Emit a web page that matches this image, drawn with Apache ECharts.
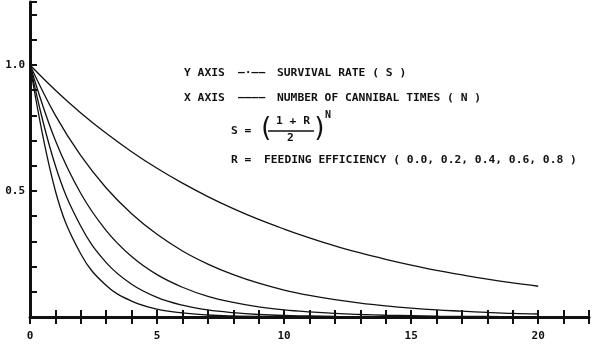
<!DOCTYPE html>
<html>
<head>
<meta charset="utf-8">
<script src="https://cdn.jsdelivr.net/npm/echarts@6/dist/echarts.min.js"></script>
<style>
    html, body { margin: 0; padding: 0; background: #fff; }
    #survival { width: 600px; height: 353px; }
</style>
</head>
<body>
<div id="survival"></div>
<script>
    // number of cannibal times N
    const cannibalTimes = [0, 1, 2, 3, 4, 5, 6, 7, 8, 9, 10, 11, 12, 13, 14, 15, 16, 17, 18, 19, 20];
    // survival rate S, R = feeding efficiency
    const survivalR00 = [1, 0.5, 0.25, 0.125, 0.063, 0.031, 0.016, 0.008, 0.004, 0.002, 0.001, 0.001, 0, 0, 0, 0, 0, 0, 0, 0, 0];
    const survivalR02 = [1, 0.6, 0.36, 0.216, 0.13, 0.078, 0.047, 0.028, 0.017, 0.01, 0.006, 0.004, 0.002, 0.001, 0.001, 0.001, 0, 0, 0, 0, 0];
    const survivalR04 = [1, 0.7, 0.49, 0.343, 0.24, 0.168, 0.118, 0.082, 0.058, 0.04, 0.028, 0.02, 0.014, 0.01, 0.007, 0.005, 0.003, 0.002, 0.002, 0.001, 0.001];
    const survivalR06 = [1, 0.8, 0.64, 0.512, 0.41, 0.328, 0.262, 0.21, 0.168, 0.134, 0.107, 0.086, 0.069, 0.055, 0.044, 0.035, 0.028, 0.023, 0.018, 0.014, 0.012];
    const survivalR08 = [1, 0.9, 0.81, 0.729, 0.656, 0.59, 0.531, 0.478, 0.43, 0.387, 0.349, 0.314, 0.282, 0.254, 0.229, 0.206, 0.185, 0.167, 0.15, 0.135, 0.122];
    const xLabels = [0, 5, 10, 15, 20];
    const yLabels = ['0.5', '1.0'];

    const font = 'DejaVu Sans Mono';

    function curve(values) {
        return {
            type: 'line',
            smooth: 0.4,
            showSymbol: false,
            symbol: 'none',
            lineStyle: { color: '#111', width: 1.3 },
            data: cannibalTimes.map(function (n, i) { return [n, values[i]]; })
        };
    }

    function text(x, y, str, size, weight) {
        return {
            type: 'text', left: x, top: y,
            style: { text: str, fill: '#111', font: (weight || 'bold') + ' ' + (size || 11.3) + 'px "' + font + '"' }
        };
    }

    let chart = echarts.init(document.getElementById('survival'));
    let option = {
        animation: false,
        backgroundColor: '#fff',
        grid: { left: 30, right: 11, top: 2, bottom: 36 },
        xAxis: [{
            type: 'value', min: 0, max: 22, interval: 1,
            axisLine: { lineStyle: { color: '#111', width: 3 } },
            axisTick: {
                length: 7, lineStyle: { color: '#111', width: 2 },
                interval: function (i, v) { return v >= 5; }
            },
            splitLine: { show: false },
            axisLabel: {
                margin: 14, color: '#111', fontFamily: font, fontWeight: 'bold', fontSize: 11,
                formatter: function (v) { return xLabels.indexOf(v) >= 0 ? String(v) : ''; }
            }
        }, {
            type: 'value', min: 0, max: 22, interval: 1, position: 'bottom',
            axisLine: { show: false },
            axisTick: { inside: true, length: 7, lineStyle: { color: '#111', width: 2 } },
            splitLine: { show: false },
            axisLabel: { show: false }
        }],
        yAxis: {
            type: 'value', min: 0, max: 1.25, interval: 0.1,
            axisLine: { show: true, lineStyle: { color: '#111', width: 3 } },
            axisTick: { inside: true, length: 7, lineStyle: { color: '#111', width: 2 } },
            splitLine: { show: false },
            axisLabel: {
                margin: 5, color: '#111', fontFamily: font, fontWeight: 'bold', fontSize: 11,
                formatter: function (v) {
                    let s = v.toFixed(1);
                    return yLabels.indexOf(s) >= 0 ? s : '';
                }
            }
        },
        series: [curve(survivalR00), curve(survivalR02), curve(survivalR04), curve(survivalR06), curve(survivalR08)],
        graphic: [
            text(184, 68, 'Y AXIS'),
            text(238, 68, '—·——'),
            text(277, 68, 'SURVIVAL RATE ( S )'),
            text(184, 93, 'X AXIS'),
            text(238, 93, '————'),
            text(277, 93, 'NUMBER OF CANNIBAL TIMES ( N )'),
            text(231, 126, 'S ='),
            text(258, 116, '(', 26, 'normal'),
            text(276, 116, '1 + R'),
            { type: 'line', shape: { x1: 268, y1: 131, x2: 314, y2: 131 }, style: { stroke: '#111', lineWidth: 1.5 } },
            text(287, 133, '2'),
            text(312, 116, ')', 26, 'normal'),
            text(325, 110, 'N', 10),
            text(231, 155, 'R ='),
            text(264, 155, 'FEEDING EFFICIENCY ( 0.0, 0.2, 0.4, 0.6, 0.8 )')
        ]
    };
    chart.setOption(option);
</script>
</body>
</html>
